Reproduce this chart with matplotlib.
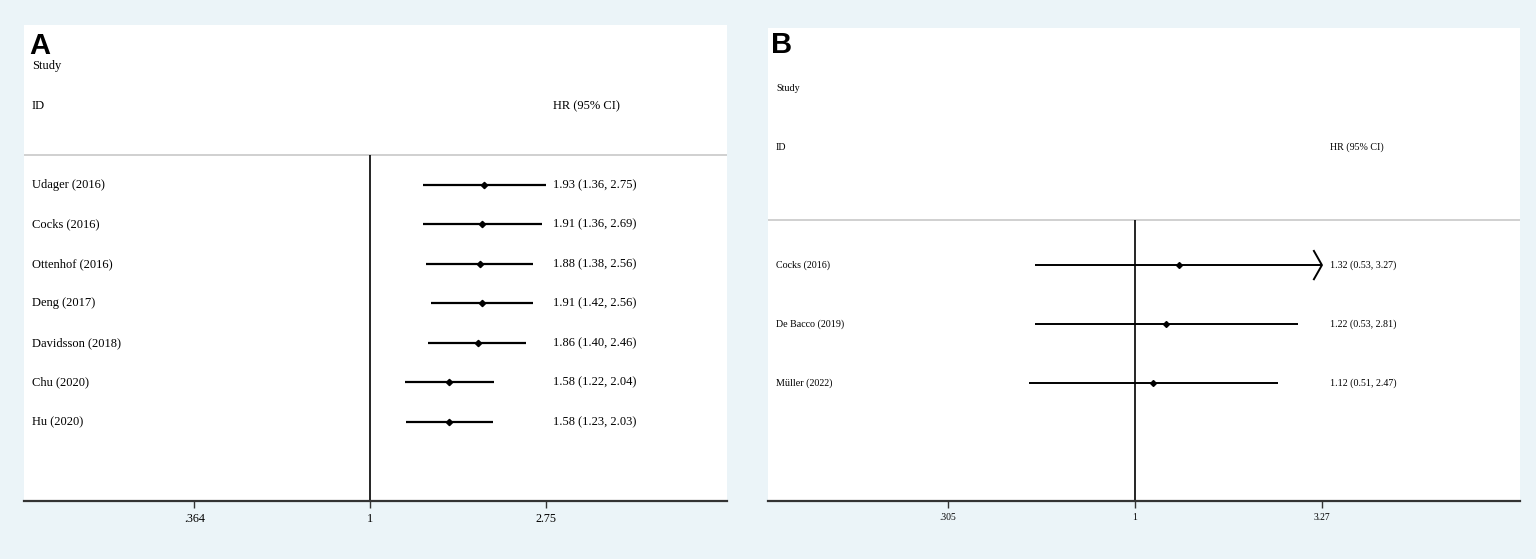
import numpy as np
import matplotlib
matplotlib.use("Agg")
from matplotlib import pyplot as plt
from matplotlib.ticker import FixedLocator, FixedFormatter, NullLocator

plt.rcParams['font.family'] = ['Liberation Serif', 'DejaVu Serif']

# panel A data
studies_a = ['Udager (2016)', 'Cocks (2016)', 'Ottenhof (2016)', 'Deng (2017)',
             'Davidsson (2018)', 'Chu (2020)', 'Hu (2020)']
hr_a = [1.93, 1.91, 1.88, 1.91, 1.86, 1.58, 1.58]
lo_a = [1.36, 1.36, 1.38, 1.42, 1.40, 1.22, 1.23]
hi_a = [2.75, 2.69, 2.56, 2.56, 2.46, 2.04, 2.03]
arrow_a = [False] * 7
ticks_a = [0.364, 1, 2.75]
ticklabels_a = ['.364', '1', '2.75']

# panel B data
studies_b = ['Cocks (2016)', 'De Bacco (2019)', 'Müller (2022)']
hr_b = [1.32, 1.22, 1.12]
lo_b = [0.53, 0.53, 0.51]
hi_b = [3.27, 2.81, 2.47]
arrow_b = [True, False, False]
ticks_b = [0.305, 1, 3.27]
ticklabels_b = ['.305', '1', '3.27']

W, H = 1536, 559
bg = '#EBF4F8'
fig = plt.figure(figsize=(W / 100, H / 100), dpi=100, facecolor=bg)


def px_axes(x0, y0, x1, y1):
    return fig.add_axes([x0 / W, 1 - y1 / H, (x1 - x0) / W, (y1 - y0) / H])


def forest(ax, letter, studies, hr, lo, hi, arrows, ticks, ticklabels,
           xlim, ylim, fs, lw, letter_y, text_x, val_x, letter_x, ms):
    ax.set_facecolor('white')
    ax.set_xscale('log')
    ax.set_xlim(*xlim)
    ax.set_ylim(*ylim)
    for s in ['top', 'left', 'right']:
        ax.spines[s].set_visible(False)
    ax.spines['bottom'].set_color('#333333')
    ax.spines['bottom'].set_linewidth(1.6)
    ax.yaxis.set_visible(False)
    ax.xaxis.set_major_locator(FixedLocator(ticks))
    ax.xaxis.set_major_formatter(FixedFormatter(ticklabels))
    ax.xaxis.set_minor_locator(NullLocator())
    ax.tick_params(axis='x', length=5, width=1, color='#333333',
                   labelsize=fs - 0.3, pad=4)

    tr = ax.get_yaxis_transform()
    n = len(studies)
    rows = np.arange(n)
    head_y = -0.76

    ax.axhline(head_y, color='#c8c8c8', lw=1.2)
    ax.vlines(1, head_y, ylim[0], color='black', lw=1.2)

    ax.text(letter_x, letter_y, letter, transform=tr, fontsize=21,
            fontweight='bold', family='Liberation Sans', va='baseline', ha='left')
    ax.text(text_x, -3.0, 'Study', transform=tr, fontsize=fs, va='center')
    ax.text(text_x, -2.0, 'ID', transform=tr, fontsize=fs, va='center')
    ax.text(val_x, -2.0, 'HR (95% CI)', transform=tr, fontsize=fs, va='center')

    for i in rows:
        ax.plot([lo[i], hi[i]], [i, i], color='black', lw=lw, solid_capstyle='butt')
        ax.plot(hr[i], i, marker='D', color='black', ms=ms)
        if arrows[i]:
            back = hi[i] * np.exp(-0.051)
            ax.plot([back, hi[i], back], [i - 0.24, i, i + 0.24],
                    color='black', lw=lw)
        ax.text(text_x, i, studies[i], transform=tr, fontsize=fs, va='center')
        ax.text(val_x, i, f'{hr[i]:.2f} ({lo[i]:.2f}, {hi[i]:.2f})',
                transform=tr, fontsize=fs, va='center')


ax_a = px_axes(24, 25, 727, 501)
forest(ax_a, 'A', studies_a, hr_a, lo_a, hi_a, arrow_a, ticks_a, ticklabels_a,
       xlim=(np.exp(-1.99), np.exp(2.054)), ylim=(8.0, -4.05), fs=9, lw=1.6,
       letter_y=-3.32, text_x=0.0114, val_x=0.7525, letter_x=0.008, ms=3.2)

ax_b = px_axes(768, 28, 1520, 501)
forest(ax_b, 'B', studies_b, hr_b, lo_b, hi_b, arrow_b, ticks_b, ticklabels_b,
       xlim=(np.exp(-2.326), np.exp(2.44)), ylim=(4.0, -4.02), fs=7.2, lw=1.4,
       letter_y=-3.6, text_x=0.0106, val_x=0.747, letter_x=0.004, ms=3.0)

fig.savefig('out.png', dpi=100, facecolor=bg)
